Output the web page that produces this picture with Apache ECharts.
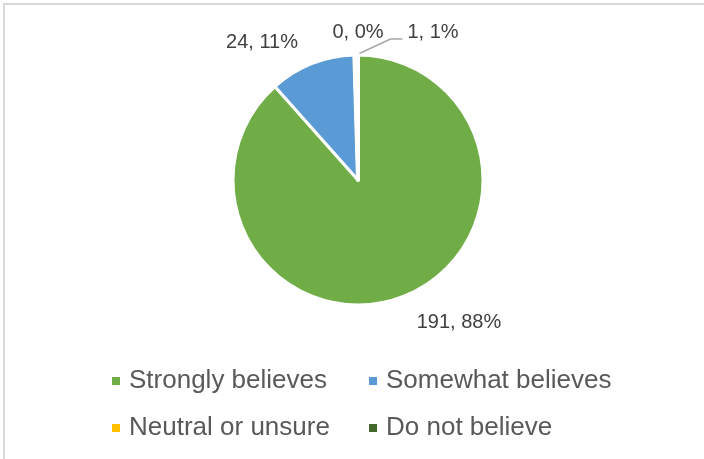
<!DOCTYPE html>
<html>
<head>
<meta charset="utf-8">
<script src="https://cdn.jsdelivr.net/npm/echarts@6/dist/echarts.min.js"></script>
<style>
  html, body { margin: 0; padding: 0; background: #ffffff; }
  #frame { position: absolute; left: 3px; top: 3px; right: -10px; bottom: -10px;
           border-left: 2px solid #d9d9d9; border-top: 2px solid #d9d9d9; }
  #chart { position: absolute; left: 0; top: 0; width: 704px; height: 459px; }
</style>
</head>
<body>
<div id="frame"></div>
<div id="chart"></div>
<script>
const categories = ['Strongly believes', 'Somewhat believes', 'Neutral or unsure', 'Do not believe'];
const counts = [191, 24, 0, 1];
const colors = ['#70AD47', '#5B9BD5', '#FFC000', '#43682B'];
// label anchor points (centre of each data label text)
const labelSpots = [[459, 322], [262, 42], [358, 32], [433, 32]];

const chart = echarts.init(document.getElementById('chart'), null, { renderer: 'canvas' });

const legendText = { color: '#595959', fontSize: 26, fontFamily: 'Liberation Sans, Arial, sans-serif', lineHeight: 26, padding: [0, 0, 0, 4] };
const legendBase = { orient: 'vertical', top: 368, icon: 'rect', itemWidth: 8, itemHeight: 8, itemGap: 21,
  itemStyle: { borderWidth: 0 }, textStyle: legendText, selectedMode: false, padding: 0 };

const option = {
  animation: false,
  legend: [
    Object.assign({ data: [categories[0], categories[2]], left: 112 }, legendBase),
    Object.assign({ data: [categories[1], categories[3]], left: 369 }, legendBase)
  ],
  series: [{
    type: 'pie',
    center: [358, 180],
    radius: 125,
    startAngle: 90,
    clockwise: true,
    percentPrecision: 0,
    avoidLabelOverlap: false,
    emphasis: { disabled: true },
    itemStyle: { borderColor: '#ffffff', borderWidth: 3 },
    label: {
      show: true,
      position: 'outside',
      formatter: '{c}, {d}%',
      color: '#404040',
      fontSize: 20,
      fontFamily: 'Liberation Sans, Arial, sans-serif'
    },
    labelLine: { show: false, lineStyle: { color: '#a6a6a6', width: 1.5 } },
    labelLayout: function (params) {
      const i = params.dataIndex;
      const p = labelSpots[i];
      const res = { x: p[0], y: p[1], align: 'center', verticalAlign: 'middle' };
      if (i === 3 && params.labelLinePoints) {
        const start = params.labelLinePoints[0];
        const left = p[0] - params.labelRect.width / 2;
        res.labelLinePoints = [start, [left - 17, p[1] + 7], [left - 5, p[1] + 7]];
      }
      return res;
    },
    data: categories.map((name, i) => ({
      name: name,
      value: counts[i],
      itemStyle: i === 3 ? { color: colors[i], borderWidth: 4 } : { color: colors[i] },
      labelLine: i === 3 ? { show: true, length: 10, length2: 10 } : { show: false }
    }))
  }]
};
chart.setOption(option);
</script>
</body>
</html>
